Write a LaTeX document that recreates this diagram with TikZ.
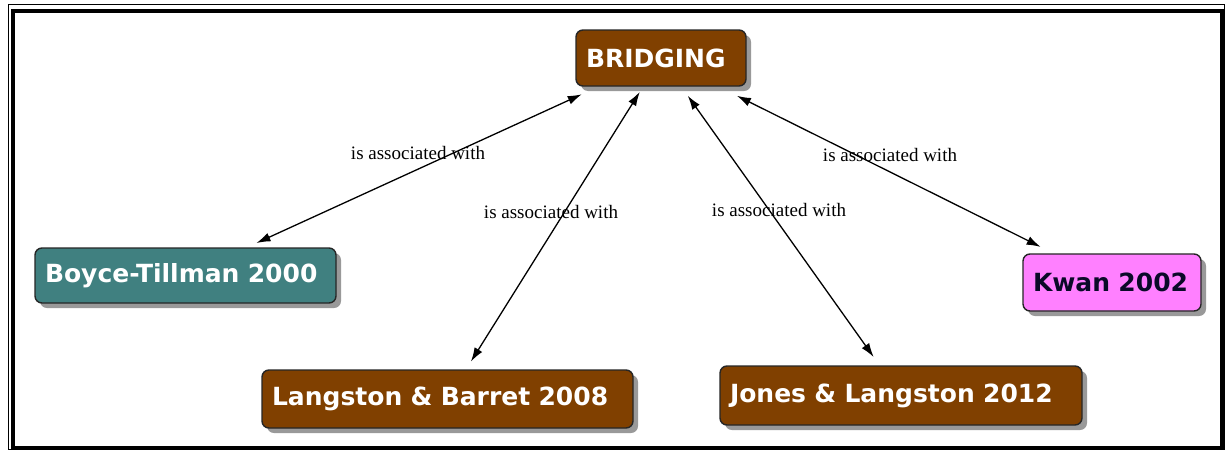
\documentclass[tikz,border=0pt]{standalone}
\usepackage{fontspec}
\usetikzlibrary{arrows.meta,shadows}
\newfontfamily\boxfont{DejaVu Sans}
\newfontfamily\linkfont{Liberation Serif}
\definecolor{conceptbrown}{RGB}{128,64,0}
\definecolor{conceptteal}{RGB}{64,128,128}
\definecolor{conceptpink}{RGB}{255,128,255}
\definecolor{concepttext}{RGB}{10,10,40}
\tikzset{
  concept/.style={rectangle, rounded corners=7pt, draw=black!85, line width=1.4pt,
    outer sep=0pt, inner xsep=10pt, inner ysep=0pt, align=left,
    font=\boxfont\bfseries\fontsize{25}{29}\selectfont, text=white,
    drop shadow={shadow xshift=5pt, shadow yshift=-5pt, fill=black!50, opacity=0.8}},
  linklabel/.style={font=\linkfont\fontsize{19}{22}\selectfont, inner sep=0pt},
  assoc/.style={line width=1.3pt, {Latex[length=14pt,width=9pt]}-{Latex[length=14pt,width=9pt]}}
}
\begin{document}
\begin{tikzpicture}[x=1pt,y=-1pt]
\useasboundingbox (0,0) rectangle (1225,450);
\fill[white] (0,0) rectangle (1225,450);
% frame
\draw[line width=1pt] (8.5,4.5) rectangle (1224.5,449.5);
\draw[line width=4pt] (13,11) rectangle (1222,448);

% concepts
\node[concept, fill=conceptbrown, text width=150pt, minimum height=56pt] (br) at (661,58) {BRIDGING};
\node[concept, fill=conceptteal, text width=281pt, minimum height=55pt] (bt) at (185.5,275.5) {Boyce-Tillman 2000};
\node[concept, fill=conceptbrown, text width=351pt, minimum height=58pt] (lb) at (447.5,399) {Langston \& Barret 2008};
\node[concept, fill=conceptbrown, text width=342pt, minimum height=59pt] (jl) at (901,395.5) {Jones \& Langston 2012};
\node[concept, fill=conceptpink, text=concepttext, text width=158pt, minimum height=57pt] (kw) at (1112,282.5) {Kwan 2002};

% links
\draw[assoc, shorten <=20pt, shorten >=12pt] (br) -- (bt);
\draw[assoc, shorten <=7pt, shorten >=10pt] (br) -- (lb);
\draw[assoc, shorten <=12pt, shorten >=11pt] (br) -- (jl);
\draw[assoc, shorten <=22pt, shorten >=16pt] (br) -- (kw);

% link labels
\node[linklabel] (l1) at (418,153) {is associated with};
\node[linklabel] (l2) at (551,212) {is associated with};
\node[linklabel] (l3) at (779,210) {is associated with};
\node[linklabel] (l4) at (890,155) {is associated with};
\end{tikzpicture}
\end{document}
